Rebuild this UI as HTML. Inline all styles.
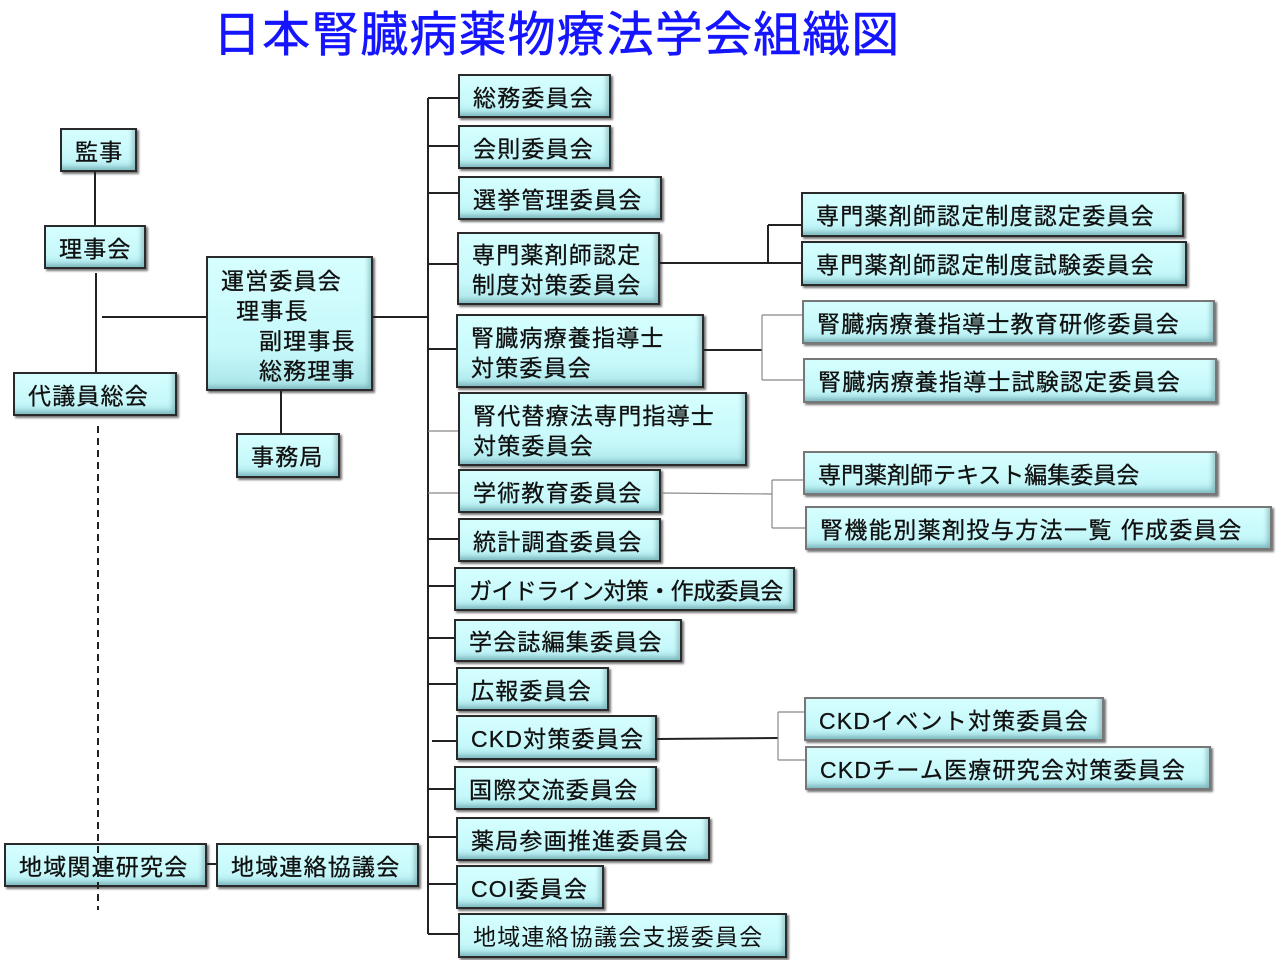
<!DOCTYPE html>
<html><head><meta charset="utf-8"><style>
body{margin:0;width:1280px;height:960px;background:#fff;position:relative;overflow:hidden;font-family:"Liberation Sans","Noto Sans CJK JP",sans-serif;}
.b{position:absolute;box-sizing:border-box;border:2px solid #2a2a2a;background:linear-gradient(to bottom,#d6ffff 0%,#c6f8fa 70%,#a9e4e8 100%);box-shadow:2px 2px 2px #777,inset -3px -3px 4px rgba(0,60,70,0.25);font-size:23px;color:#111;display:flex;align-items:center;padding-left:13px;padding-top:3px;line-height:30px;white-space:nowrap;letter-spacing:1.2px;-webkit-text-stroke:0.3px #111}
.g{border-color:#777}
.t{position:absolute;left:213px;top:5px;font-size:48px;color:#1414ff;letter-spacing:1.1px;white-space:nowrap;line-height:62px;-webkit-text-stroke:0.5px #1414ff}
svg{position:absolute;left:0;top:0;z-index:5}
</style></head><body>
<div class="t">日本腎臓病薬物療法学会組織図</div>

<div class="b" style="left:60px;top:128px;width:77px;height:44px">監事</div>
<div class="b" style="left:44px;top:225px;width:102px;height:44px">理事会</div>
<div class="b" style="left:13px;top:372px;width:164px;height:44px">代議員総会</div>
<div class="b" style="left:206px;top:256px;width:167px;height:135px;align-items:flex-start;padding-top:8px;line-height:30px">運営委員会<br>&nbsp;&nbsp;理事長<br>&nbsp;&nbsp;&nbsp;&nbsp;&nbsp;副理事長<br>&nbsp;&nbsp;&nbsp;&nbsp;&nbsp;総務理事</div>
<div class="b" style="left:236px;top:433px;width:104px;height:45px">事務局</div>
<div class="b" style="left:4px;top:843px;width:203px;height:44px">地域関連研究会</div>
<div class="b" style="left:216px;top:843px;width:203px;height:44px">地域連絡協議会</div>

<div class="b" style="left:458px;top:74px;width:153px;height:44px">総務委員会</div>
<div class="b" style="left:458px;top:125px;width:153px;height:44px">会則委員会</div>
<div class="b" style="left:458px;top:176px;width:204px;height:44px">選挙管理委員会</div>
<div class="b" style="left:457px;top:232px;width:203px;height:73px">専門薬剤師認定<br>制度対策委員会</div>
<div class="b" style="left:456px;top:314px;width:248px;height:74px">腎臓病療養指導士<br>対策委員会</div>
<div class="b" style="left:458px;top:392px;width:289px;height:74px">腎代替療法専門指導士<br>対策委員会</div>
<div class="b" style="left:458px;top:469px;width:203px;height:44px">学術教育委員会</div>
<div class="b" style="left:458px;top:518px;width:203px;height:44px">統計調査委員会</div>
<div class="b" style="left:454px;top:567px;width:341px;height:44px;letter-spacing:-0.6px">ガイドライン対策・作成委員会</div>
<div class="b" style="left:454px;top:619px;width:228px;height:43px">学会誌編集委員会</div>
<div class="b" style="left:456px;top:667px;width:153px;height:44px">広報委員会</div>
<div class="b" style="left:456px;top:715px;width:201px;height:45px">CKD対策委員会</div>
<div class="b" style="left:454px;top:766px;width:203px;height:44px">国際交流委員会</div>
<div class="b" style="left:456px;top:817px;width:254px;height:44px">薬局参画推進委員会</div>
<div class="b" style="left:456px;top:865px;width:148px;height:44px">COI委員会</div>
<div class="b" style="left:458px;top:913px;width:329px;height:45px;-webkit-text-stroke:0">地域連絡協議会支援委員会</div>

<div class="b" style="left:801px;top:192px;width:383px;height:45px">専門薬剤師認定制度認定委員会</div>
<div class="b" style="left:801px;top:241px;width:386px;height:45px">専門薬剤師認定制度試験委員会</div>
<div class="b g" style="left:802px;top:300px;width:413px;height:44px">腎臓病療養指導士教育研修委員会</div>
<div class="b g" style="left:803px;top:358px;width:414px;height:45px">腎臓病療養指導士試験認定委員会</div>
<div class="b g" style="left:803px;top:451px;width:414px;height:44px;letter-spacing:0">専門薬剤師テキスト編集委員会</div>
<div class="b g" style="left:805px;top:506px;width:467px;height:44px;letter-spacing:1.4px">腎機能別薬剤投与方法一覧 作成委員会</div>
<div class="b g" style="left:804px;top:697px;width:300px;height:44px">CKDイベント対策委員会</div>
<div class="b g" style="left:805px;top:746px;width:406px;height:44px">CKDチーム医療研究会対策委員会</div>

<svg width="1280" height="960">
<g stroke="#222" stroke-width="2" fill="none">
<line x1="95" y1="171" x2="95" y2="225"/>
<line x1="96" y1="273" x2="96" y2="372"/>
<line x1="102" y1="317" x2="206" y2="317"/>
<line x1="281" y1="391" x2="281" y2="433"/>
<line x1="207" y1="864" x2="216" y2="864"/>
<line x1="373" y1="317" x2="428" y2="317"/>
<line x1="428" y1="98" x2="428" y2="934"/>
<line x1="428" y1="98" x2="458" y2="98"/>
<line x1="428" y1="146" x2="458" y2="146"/>
<line x1="428" y1="193" x2="458" y2="193"/>
<line x1="428" y1="264" x2="457" y2="264"/>
<line x1="428" y1="349" x2="456" y2="349"/>
<line x1="428" y1="539" x2="458" y2="539"/>
<line x1="428" y1="586" x2="454" y2="586"/>
<line x1="428" y1="638" x2="454" y2="638"/>
<line x1="428" y1="684" x2="456" y2="684"/>
<line x1="432" y1="741" x2="456" y2="741"/>
<line x1="428" y1="789" x2="454" y2="789"/>
<line x1="428" y1="837" x2="456" y2="837"/>
<line x1="428" y1="884" x2="456" y2="884"/>
<line x1="428" y1="934" x2="458" y2="934"/>
<line x1="660" y1="263" x2="801" y2="263"/>
<line x1="768" y1="225" x2="768" y2="263"/>
<line x1="768" y1="225" x2="801" y2="225"/>
<line x1="704" y1="350" x2="762" y2="350"/>
<line x1="657" y1="739" x2="778" y2="738"/>
</g>
<g stroke="#888" stroke-width="1.2" fill="none">
<line x1="428" y1="431" x2="458" y2="431"/>
<line x1="428" y1="493" x2="458" y2="493"/>
<line x1="762" y1="315" x2="802" y2="315"/>
<line x1="762" y1="315" x2="762" y2="380"/>
<line x1="762" y1="380" x2="803" y2="380"/>
<line x1="661" y1="493" x2="772" y2="494"/>
<line x1="772" y1="480" x2="772" y2="528"/>
<line x1="772" y1="480" x2="803" y2="480"/>
<line x1="772" y1="528" x2="805" y2="528"/>
<line x1="778" y1="712" x2="778" y2="760"/>
<line x1="778" y1="712" x2="804" y2="712"/>
<line x1="778" y1="760" x2="805" y2="760"/>
</g>
<line x1="98" y1="426" x2="98" y2="910" stroke="#222" stroke-width="2" stroke-dasharray="7,5"/>
</svg>
</body></html>
